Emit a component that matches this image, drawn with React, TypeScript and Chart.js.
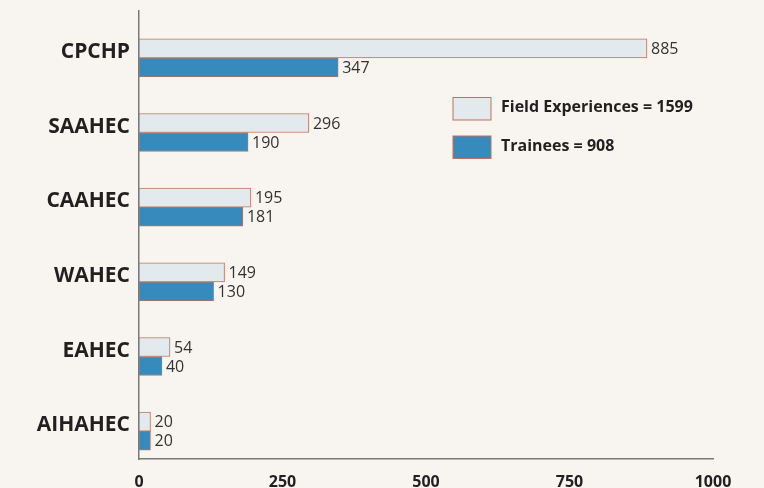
import React, { useEffect, useRef } from "react";
import { Chart, registerables } from "chart.js";

Chart.register(...registerables);

const categories = ["CPCHP", "SAAHEC", "CAAHEC", "WAHEC", "EAHEC", "AIHAHEC"];
const fieldExperiences = [885, 296, 195, 149, 54, 20];
const trainees = [347, 190, 181, 130, 40, 20];
const spacer = [0, 0, 0, 0, 0, 0];
const xTicks = [0, 250, 500, 750, 1000];
const legendLabels = ["Field Experiences = 1599", "Trainees = 908"];

const FIELD_FILL = "#E3EAED";
const TRAINEE_FILL = "#368BBC";
const BAR_BORDER = "#C0705A";
const TEXT = "#231F20";
const BG = "#F8F5F1";
const FONT = "'Open Sans', 'DejaVu Sans', sans-serif";

const valueLabels = {
  id: "valueLabels",
  afterDatasetsDraw(chart: any) {
    const ctx = chart.ctx;
    ctx.save();
    ctx.font = `16px ${FONT}`;
    ctx.fillStyle = "#333333";
    ctx.textAlign = "left";
    ctx.textBaseline = "middle";
    [1, 2].forEach((di) => {
      const meta = chart.getDatasetMeta(di);
      const data = chart.data.datasets[di].data as number[];
      meta.data.forEach((el: any, i: number) => {
        ctx.fillText(String(data[i]), el.x + 4, el.y + 1);
      });
    });
    ctx.restore();
  },
};

const customLegend = {
  id: "customLegend",
  afterDraw(chart: any) {
    const ctx = chart.ctx;
    ctx.save();
    const fills = [FIELD_FILL, TRAINEE_FILL];
    const tops = [97.5, 136];
    legendLabels.forEach((label, i) => {
      ctx.fillStyle = fills[i];
      ctx.fillRect(453, tops[i], 38, 22.5);
      ctx.strokeStyle = BAR_BORDER;
      ctx.lineWidth = 1;
      ctx.strokeRect(453, tops[i], 38, 22.5);
      ctx.fillStyle = TEXT;
      ctx.font = `bold 16px ${FONT}`;
      ctx.textAlign = "left";
      ctx.textBaseline = "middle";
      ctx.fillText(label, 501, tops[i] + 10);
    });
    ctx.restore();
  },
};

export default function App() {
  const ref = useRef<HTMLCanvasElement>(null);

  useEffect(() => {
    if (!ref.current) return;
    const chart = new Chart(ref.current, {
      type: "bar",
      data: {
        labels: categories,
        datasets: [
          {
            label: "spacer",
            data: spacer,
            backgroundColor: "rgba(0,0,0,0)",
            borderWidth: 0,
          },
          {
            label: legendLabels[0],
            data: fieldExperiences,
            backgroundColor: FIELD_FILL,
            borderColor: BAR_BORDER,
            borderWidth: 1,
            borderSkipped: false,
          },
          {
            label: legendLabels[1],
            data: trainees,
            backgroundColor: TRAINEE_FILL,
            borderColor: BAR_BORDER,
            borderWidth: 1,
            borderSkipped: false,
          },
        ],
      },
      options: {
        indexAxis: "y",
        animation: false,
        responsive: false,
        maintainAspectRatio: false,
        layout: { padding: { top: 11, right: 51, left: 0, bottom: 0 } },
        datasets: { bar: { barThickness: 19 } },
        plugins: {
          legend: { display: false },
          tooltip: { enabled: false },
        },
        scales: {
          x: {
            min: 0,
            max: 1000,
            afterBuildTicks: (s: any) => {
              s.ticks = xTicks.map((v) => ({ value: v }));
            },
            afterFit: (s: any) => {
              s.height = 29;
            },
            grid: { display: false, drawTicks: false },
            border: { display: true, color: "#7A7A7A", width: 1.5 },
            ticks: {
              padding: 14,
              color: TEXT,
              font: { family: FONT, size: 16, weight: "bold" },
              maxRotation: 0,
              callback: (v: any) => String(v),
            },
          },
          y: {
            afterFit: (s: any) => {
              s.width = 139;
              s.paddingTop = 0;
              s.paddingBottom = 0;
            },
            grid: { display: false, drawTicks: false },
            border: { display: true, color: "#7A7A7A", width: 1.5 },
            ticks: {
              padding: 9,
              color: TEXT,
              font: { family: FONT, size: 21, weight: "bold", lineHeight: 0.34 },
              callback: (_v: any, i: number) => ["", categories[i]],
            },
          },
        },
      },
      plugins: [valueLabels, customLegend],
    });
    return () => chart.destroy();
  }, []);

  return (
    <div
      style={{
        position: "fixed",
        left: 0,
        top: 0,
        width: 764,
        height: 488,
        background: BG,
      }}
    >
      <canvas ref={ref} width={764} height={488} style={{ width: 764, height: 488 }} />
    </div>
  );
}
